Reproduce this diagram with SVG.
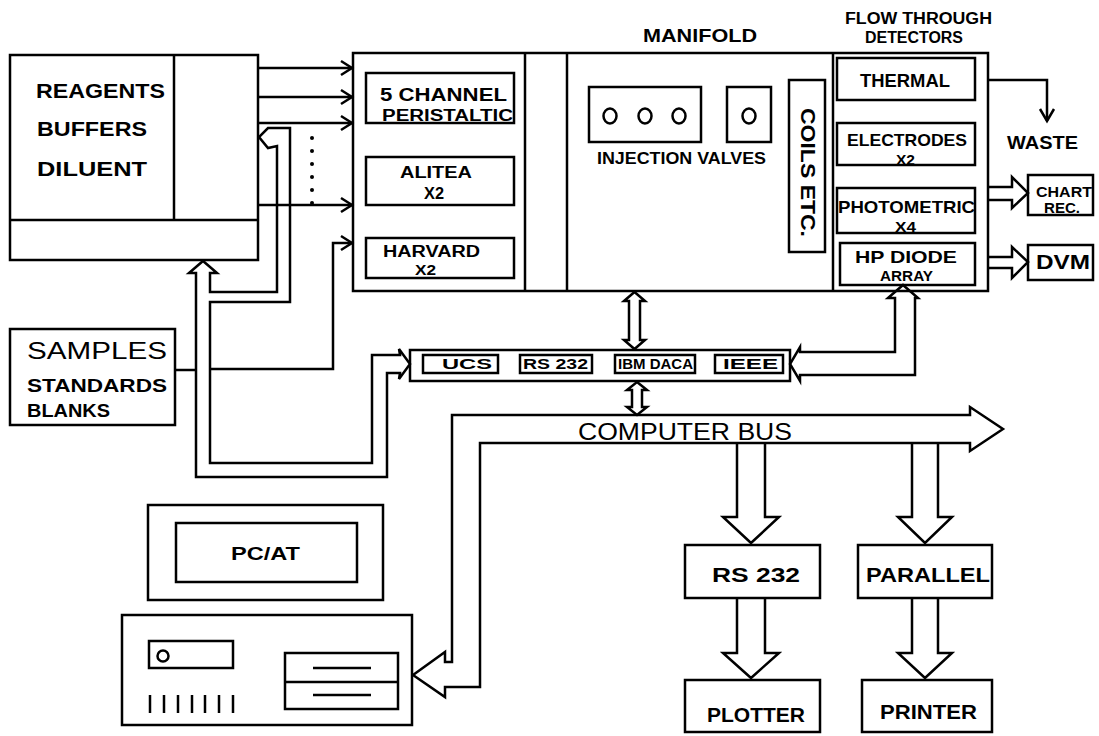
<svg xmlns="http://www.w3.org/2000/svg" width="1099" height="736" viewBox="0 0 1099 736">
<style>
.s{fill:none;stroke:#000;stroke-width:2.5;stroke-linejoin:miter}
.t{font-family:"Liberation Sans",Arial,sans-serif;font-weight:bold;fill:#000}
.n{font-family:"Liberation Sans",Arial,sans-serif;font-weight:normal;fill:#000}
</style>
<rect width="1099" height="736" fill="#fff"/>

<g id="reagents">
<rect class="s" x="10" y="55" width="248" height="205"/>
<line class="s" x1="174" y1="55" x2="174" y2="220"/>
<line class="s" x1="10" y1="220" x2="258" y2="220"/>
<text class="t" x="36" y="97.5" font-size="21" textLength="129" lengthAdjust="spacingAndGlyphs">REAGENTS</text>
<text class="t" x="37" y="135.5" font-size="21" textLength="110" lengthAdjust="spacingAndGlyphs">BUFFERS</text>
<text class="t" x="37" y="175.5" font-size="21" textLength="110" lengthAdjust="spacingAndGlyphs">DILUENT</text>
</g>

<g id="samples">
<rect class="s" x="10" y="329" width="165" height="96"/>
<text class="n" x="27" y="358.5" font-size="24" textLength="140" lengthAdjust="spacingAndGlyphs">SAMPLES</text>
<text class="t" x="27" y="392" font-size="19" textLength="140" lengthAdjust="spacingAndGlyphs">STANDARDS</text>
<text class="t" x="27" y="416.5" font-size="18" textLength="83" lengthAdjust="spacingAndGlyphs">BLANKS</text>
</g>

<g id="system">
<rect class="s" x="353" y="53" width="635" height="238"/>
<line class="s" x1="525" y1="53" x2="525" y2="291"/>
<line class="s" x1="567" y1="53" x2="567" y2="291"/>
<line class="s" x1="833" y1="53" x2="833" y2="291"/>
</g>

<g id="pumps">
<rect class="s" x="366" y="73" width="148" height="50"/>
<text class="t" x="380" y="101" font-size="18" textLength="127" lengthAdjust="spacingAndGlyphs">5 CHANNEL</text>
<text class="t" x="382" y="120.5" font-size="16" textLength="131" lengthAdjust="spacingAndGlyphs">PERISTALTIC</text>
<rect class="s" x="366" y="157" width="148" height="48"/>
<text class="t" x="400" y="178" font-size="17" textLength="72" lengthAdjust="spacingAndGlyphs">ALITEA</text>
<text class="t" x="424" y="199" font-size="16" textLength="20" lengthAdjust="spacingAndGlyphs">X2</text>
<rect class="s" x="366" y="238" width="148" height="40"/>
<text class="t" x="383" y="256.5" font-size="16" textLength="97" lengthAdjust="spacingAndGlyphs">HARVARD</text>
<text class="t" x="415" y="275" font-size="14" textLength="21" lengthAdjust="spacingAndGlyphs">X2</text>
</g>

<g id="manifold">
<text class="t" x="643" y="42" font-size="18" textLength="114" lengthAdjust="spacingAndGlyphs">MANIFOLD</text>
<rect class="s" x="589" y="87" width="112" height="55"/>
<ellipse class="s" cx="610" cy="116" rx="6.5" ry="7.5"/>
<ellipse class="s" cx="645" cy="116" rx="6.5" ry="7.5"/>
<ellipse class="s" cx="679" cy="116" rx="6.5" ry="7.5"/>
<rect class="s" x="727" y="87" width="44" height="55"/>
<ellipse class="s" cx="749" cy="116" rx="6.5" ry="7.5"/>
<text class="t" x="597" y="164" font-size="16" textLength="169" lengthAdjust="spacingAndGlyphs">INJECTION VALVES</text>
<rect class="s" x="789" y="80" width="36" height="172"/>
<text class="t" transform="translate(801,108) rotate(90)" x="0" y="0" font-size="20" textLength="129" lengthAdjust="spacingAndGlyphs">COILS ETC.</text>
</g>

<g id="detectors">
<text class="t" x="845" y="24" font-size="16" textLength="147" lengthAdjust="spacingAndGlyphs">FLOW THROUGH</text>
<text class="t" x="865" y="43" font-size="16" textLength="98" lengthAdjust="spacingAndGlyphs">DETECTORS</text>
<rect class="s" x="837" y="58" width="138" height="42"/>
<text class="t" x="860" y="86.5" font-size="18" textLength="90" lengthAdjust="spacingAndGlyphs">THERMAL</text>
<rect class="s" x="837" y="123" width="138" height="42"/>
<text class="t" x="847" y="146" font-size="17" textLength="120" lengthAdjust="spacingAndGlyphs">ELECTRODES</text>
<text class="t" x="896" y="165" font-size="15" textLength="19" lengthAdjust="spacingAndGlyphs">X2</text>
<rect class="s" x="837" y="188" width="138" height="45"/>
<text class="t" x="838" y="213" font-size="17" textLength="137" lengthAdjust="spacingAndGlyphs">PHOTOMETRIC</text>
<text class="t" x="895" y="232" font-size="15" textLength="21" lengthAdjust="spacingAndGlyphs">X4</text>
<rect class="s" x="840" y="243" width="135" height="42"/>
<text class="t" x="855" y="263" font-size="17" textLength="102" lengthAdjust="spacingAndGlyphs">HP DIODE</text>
<text class="t" x="880" y="280.5" font-size="14" textLength="53" lengthAdjust="spacingAndGlyphs">ARRAY</text>
</g>

<g id="waste">
<text class="t" x="1007" y="148.5" font-size="18" textLength="71" lengthAdjust="spacingAndGlyphs">WASTE</text>
</g>

<g id="chart-rec">
<rect class="s" x="1028" y="175" width="65" height="40"/>
<text class="t" x="1036" y="197" font-size="14" textLength="56" lengthAdjust="spacingAndGlyphs">CHART</text>
<text class="t" x="1044" y="213" font-size="14" textLength="36" lengthAdjust="spacingAndGlyphs">REC.</text>
</g>

<g id="dvm">
<rect class="s" x="1028" y="245" width="65" height="35"/>
<text class="t" x="1036" y="269" font-size="20" textLength="54" lengthAdjust="spacingAndGlyphs">DVM</text>
</g>

<g id="interface">
<rect class="s" x="410" y="350" width="380" height="31"/>
<rect class="s" x="423" y="355" width="75" height="18"/>
<text class="t" x="442" y="369" font-size="15" textLength="50" lengthAdjust="spacingAndGlyphs">UCS</text>
<rect class="s" x="520" y="355" width="72" height="18"/>
<text class="t" x="523" y="369" font-size="15" textLength="65" lengthAdjust="spacingAndGlyphs">RS 232</text>
<rect class="s" x="615" y="355" width="80" height="18"/>
<text class="t" x="618" y="369" font-size="14" textLength="75" lengthAdjust="spacingAndGlyphs">IBM DACA</text>
<rect class="s" x="715" y="355" width="68" height="18"/>
<text class="t" x="723" y="369" font-size="15" textLength="55" lengthAdjust="spacingAndGlyphs">IEEE</text>
</g>

<g id="monitor">
<rect class="s" x="148" y="505" width="235" height="95"/>
<rect class="s" x="176" y="523" width="181" height="59"/>
<text class="t" x="231" y="559.5" font-size="18" textLength="69" lengthAdjust="spacingAndGlyphs">PC/AT</text>
</g>

<g id="pc-unit">
<rect class="s" x="122" y="615" width="290" height="110"/>
<rect class="s" x="149" y="641" width="84" height="27"/>
<circle class="s" cx="163" cy="656" r="5.5"/>
<g class="s">
<line x1="150" y1="695" x2="150" y2="713"/>
<line x1="164" y1="695" x2="164" y2="713"/>
<line x1="178" y1="695" x2="178" y2="713"/>
<line x1="192" y1="695" x2="192" y2="713"/>
<line x1="205" y1="695" x2="205" y2="713"/>
<line x1="219" y1="695" x2="219" y2="713"/>
<line x1="233" y1="695" x2="233" y2="713"/>
</g>
<rect class="s" x="285" y="653" width="113" height="56"/>
<line class="s" x1="285" y1="682" x2="398" y2="682"/>
<line class="s" x1="313" y1="668" x2="371" y2="668"/>
<line class="s" x1="313" y1="695" x2="371" y2="695"/>
</g>

<g id="rs232">
<rect class="s" x="685" y="545" width="135" height="53"/>
<text class="t" x="712" y="582" font-size="20" textLength="88" lengthAdjust="spacingAndGlyphs">RS 232</text>
</g>
<g id="parallel">
<rect class="s" x="858" y="545" width="134" height="53"/>
<text class="t" x="866" y="582" font-size="20" textLength="124" lengthAdjust="spacingAndGlyphs">PARALLEL</text>
</g>
<g id="plotter">
<rect class="s" x="685" y="680" width="135" height="52"/>
<text class="t" x="707" y="722" font-size="20" textLength="98" lengthAdjust="spacingAndGlyphs">PLOTTER</text>
</g>
<g id="printer">
<rect class="s" x="862" y="680" width="130" height="52"/>
<text class="t" x="880" y="719" font-size="20" textLength="97" lengthAdjust="spacingAndGlyphs">PRINTER</text>
</g>

<g id="computer-bus">
<polygon class="s" points="413,675 445,652 445,662 452,662 452,415 970,415 970,407 1003,429 970,451 970,443 480,443 480,687 445,687 445,697"/>
<text class="n" x="578" y="440" font-size="23" textLength="214" lengthAdjust="spacingAndGlyphs">COMPUTER BUS</text>
</g>

<g id="connectors">
<g class="s">
<line x1="258" y1="68" x2="352" y2="68"/><polyline points="341,61 352,68 341,75"/>
<line x1="258" y1="97" x2="352" y2="97"/><polyline points="341,90 352,97 341,104"/>
<line x1="258" y1="123" x2="352" y2="123"/><polyline points="341,116 352,123 341,130"/>
<line x1="258" y1="205" x2="352" y2="205"/><polyline points="341,198 352,205 341,212"/>
<polyline points="210,369 333,369 333,243 352,243"/><polyline points="341,236 352,243 341,250"/>
<line x1="175" y1="370" x2="196" y2="370"/>
</g>
<g fill="#000">
<circle cx="312" cy="138" r="2"/><circle cx="312" cy="151" r="2"/><circle cx="312" cy="164" r="2"/>
<circle cx="312" cy="177" r="2"/><circle cx="312" cy="190" r="2"/><circle cx="312" cy="203" r="2"/>
</g>
<polygon class="s" points="410,364 399,379 400,373 387,373 387,477 196,477 196,273 189,273 203,261 217,273 210,273 210,292 277,292 277,146 268,148 259,137 268,128 290,128 290,302 210,302 210,463 372,463 372,355 400,355 399,349"/>
<polygon class="s" points="895,298 888,298 903,285 918,298 915,298 915,375 800,375 800,381 790,364 800,347 800,352 895,352"/>
<polygon class="s" points="634.5,292 645,301 640,301 640,340 645,340 634.5,349 624,340 629,340 629,301 624,301"/>
<polygon class="s" points="637,382 647,390 642,390 642,407 647,407 637,415 627,407 632,407 632,390 627,390"/>
<polyline class="s" points="988,80 1047,80 1047,121"/>
<polyline class="s" points="1040,109 1047,121 1054,109"/>
<polyline class="s" points="988,187 1012,187 1012,177 1028,193 1012,208 1012,200 988,200"/>
<polyline class="s" points="988,257 1012,257 1012,247 1028,262 1012,278 1012,268 988,268"/>
<polyline class="s" points="737,443 737,517 723,517 751,543 779,517 765,517 765,443"/>
<polyline class="s" points="912,443 912,517 898,517 925,543 952,517 938,517 938,443"/>
<polyline class="s" points="737,598 737,653 723,653 751,678 779,653 765,653 765,598"/>
<polyline class="s" points="912,598 912,653 898,653 925,678 952,653 938,653 938,598"/>
</g>
</svg>
